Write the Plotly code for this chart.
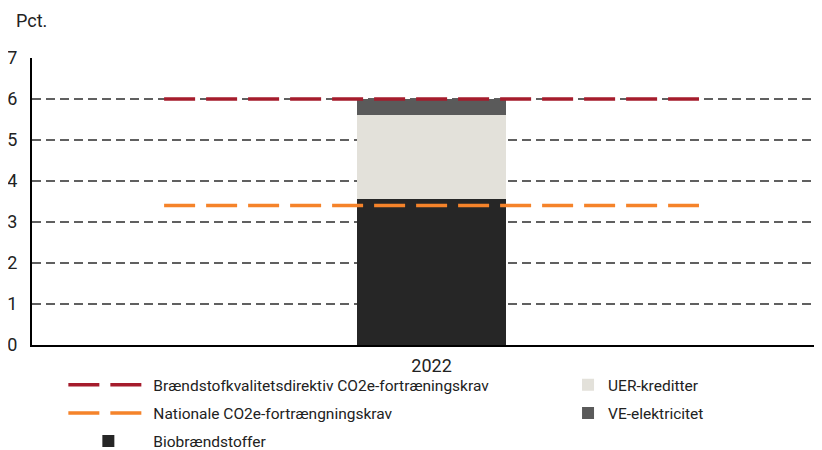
import plotly.graph_objects as go

categories = [2022]
bio = [3.57]
uer = [2.04]
ve = [0.39]
line_x = [2021.5, 2022.5]
fqd_req = [6.0, 6.0]
nat_req = [3.4, 3.4]
y_ticks = [0, 1, 2, 3, 4, 5, 6, 7]

FONT = "Roboto"
TXT = "#222"
BW = 0.278
fig = go.Figure()

fig.add_trace(go.Bar(x=categories, y=bio, name="Biobrændstoffer", width=BW,
                     marker=dict(color="#262626", line=dict(width=0)),
                     legend="legend", legendrank=3, legendgroup="c"))
fig.add_trace(go.Bar(x=categories, y=uer, name="UER-kreditter", width=BW,
                     marker=dict(color="#E3E1DA", line=dict(width=0)),
                     legend="legend2", legendrank=1, legendgroup="d"))
fig.add_trace(go.Bar(x=categories, y=ve, name="VE-elektricitet", width=BW,
                     marker=dict(color="#5A5A5A", line=dict(width=0)),
                     legend="legend2", legendrank=2, legendgroup="e"))
fig.add_trace(go.Scatter(x=line_x, y=fqd_req, mode="lines",
                         name="Brændstofkvalitetsdirektiv CO2e-fortræningskrav",
                         line=dict(color="#A51C2C", width=3.5, dash="31px,11px"),
                         legend="legend", legendrank=1, legendgroup="a"))
fig.add_trace(go.Scatter(x=line_x, y=nat_req, mode="lines",
                         name="Nationale CO2e-fortrængningskrav",
                         line=dict(color="#F5832A", width=3.5, dash="31px,11px"),
                         legend="legend", legendrank=2, legendgroup="b"))

fig.update_layout(
    width=814, height=442,
    barmode="stack",
    plot_bgcolor="white", paper_bgcolor="white",
    margin=dict(l=24, r=0, t=50, b=105, autoexpand=False),
    font=dict(family=FONT, size=15.5, color=TXT),
    showlegend=True,
    xaxis=dict(range=[2021.253, 2022.73], tickvals=categories, ticktext=["2022"],
               showgrid=False, showline=True, linecolor="black", linewidth=2,
               ticks="", tickfont=dict(size=18, color=TXT), zeroline=False,
               automargin=False, ticklabelstandoff=3),
    yaxis=dict(range=[0, 7], tickvals=y_ticks, showgrid=True, gridcolor="#606060",
               griddash="9px,5px", gridwidth=1.5, showline=True, linecolor="black",
               linewidth=2, ticks="", zeroline=False, automargin=False,
               ticklabelstandoff=9, tickfont=dict(size=18, color=TXT)),
    legend=dict(x=0.068, y=0.185, xref="container", yref="container",
                xanchor="left", yanchor="top", orientation="v",
                traceorder="grouped", font=dict(size=15.5, color=TXT),
                tracegroupgap=5, itemwidth=80, bgcolor="rgba(0,0,0,0)"),
    legend2=dict(x=0.688, y=0.185, xref="container", yref="container",
                 xanchor="left", yanchor="top", orientation="v",
                 traceorder="grouped", font=dict(size=15.5, color=TXT),
                 tracegroupgap=5, bgcolor="rgba(0,0,0,0)"),
    annotations=[dict(text="Pct.", xref="paper", yref="paper", x=-0.023, y=1.132,
                      xanchor="left", yanchor="middle", showarrow=False,
                      font=dict(size=18, color=TXT))],
)

fig.write_html("out.html")
